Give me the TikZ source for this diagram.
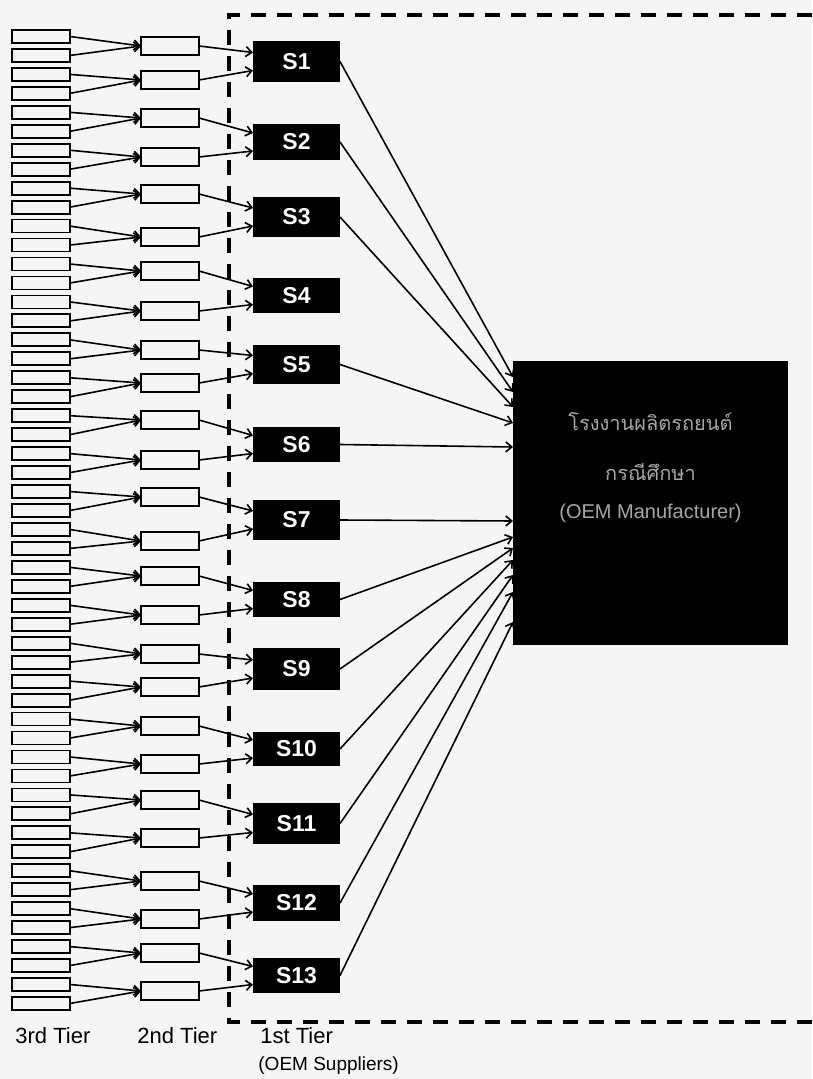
\documentclass[tikz,border=0pt]{standalone}
\usepackage{fontspec}
\setmainfont{Liberation Sans}
\newfontfamily\thaifont[Script=Thai]{Loma}
\usetikzlibrary{calc,arrows.meta}

\begin{document}
\begin{tikzpicture}[x=0.5pt, y=-0.5pt,
    tierthree/.style={draw, line width=0.9pt, minimum width=29pt, minimum height=6.5pt, inner sep=0pt, outer sep=0pt},
    tiertwo/.style={draw, line width=0.9pt, minimum width=29pt, minimum height=9pt, inner sep=0pt, outer sep=0pt},
    supp/.style={fill=black, text=white, font=\bfseries\fontsize{11.5}{13}\selectfont, minimum width=43.5pt, inner sep=0pt, outer sep=0pt},
    oem/.style={fill=black, minimum width=137.5pt, minimum height=142pt, inner sep=0pt, outer sep=0pt},
    oemtext/.style={text=black!35, inner sep=0pt},
    link/.style={-{Straight Barb[length=3pt,width=5pt]}, line width=0.8pt},
    frame/.style={line width=1.7pt, dash pattern=on 7.5pt off 5.5pt},
    tierlabel/.style={anchor=west, inner sep=0pt, font=\fontsize{11}{13}\selectfont}]
  \fill[black!4] (0,0) rectangle (812,1079);
  \useasboundingbox (0,0) rectangle (812,1079);

  % กรอบ OEM
  \draw[frame] (812,15) -- (229,15) -- (229,1022) -- (812,1022);

  % 3rd tier
  \foreach \k in {1,...,52}
    \node[tierthree] (c\k) at (41, {36.5+(\k-1)*18.96}) {};

  % 2nd tier
  \foreach \y [count=\k] in {46,80,118,157,194,237,271,311,350,383,420,460,497,541,576,615,654,687,726,764,800,838,881,919,953,991}
    \node[tiertwo] (b\k) at (170,\y) {};

  \foreach \k in {1,...,26}{
    \pgfmathtruncatemacro\ka{2*\k-1}
    \pgfmathtruncatemacro\kb{2*\k}
    \draw[link] (c\ka.east) -- (b\k.west);
    \draw[link] (c\kb.east) -- (b\k.west);
  }

  % 1st tier
  \foreach \y/\h [count=\s] in {61.5/20.5, 142/18, 217/20, 295.5/17.5, 364.5/19.5, 444.5/17.5, 520/20, 599.5/17.5, 669/21, 749/17, 823.5/20.5, 903/18, 975.5/17.5}
    \node[supp, minimum height=\h pt] (s\s) at (296.5,\y) {S\s};

  \foreach \s in {1,...,13}{
    \pgfmathtruncatemacro\ba{2*\s-1}
    \pgfmathtruncatemacro\bb{2*\s}
    \draw[link] (b\ba.east) -- ($(s\s.west)+(0,-9)$);
    \draw[link] (b\bb.east) -- ($(s\s.west)+(0,9)$);
  }

  % โรงงาน
  \node[oem] (oem) at (650.5,503) {};
  \node[oemtext, font=\thaifont\fontsize{10}{12}\selectfont] (oemA) at (650.5,422) {โรงงานผลิตรถยนต์};
  \node[oemtext, font=\thaifont\fontsize{10}{12}\selectfont] (oemB) at (650.5,472) {กรณีศึกษา};
  \node[oemtext, font=\fontsize{10}{12}\selectfont] (oemC) at (650.5,513) {(OEM Manufacturer)};

  % S4 ไม่มีลูกศร
  \foreach \s/\t in {1/377, 2/392, 3/407, 5/423, 6/447, 7/521, 8/537, 9/548, 10/560, 11/575, 12/592, 13/622}
    \draw[link] (s\s.east) -- ($(oem.west)+(0,\t-503)$);

  \node[tierlabel] (t3) at (15,1036) {3rd Tier};
  \node[tierlabel] (t2) at (137,1036) {2nd Tier};
  \node[tierlabel] (t1) at (260,1036) {1st Tier};
  \node[tierlabel, font=\fontsize{9.5}{12}\selectfont] (t1b) at (258,1066) {(OEM Suppliers)};
\end{tikzpicture}
\end{document}
